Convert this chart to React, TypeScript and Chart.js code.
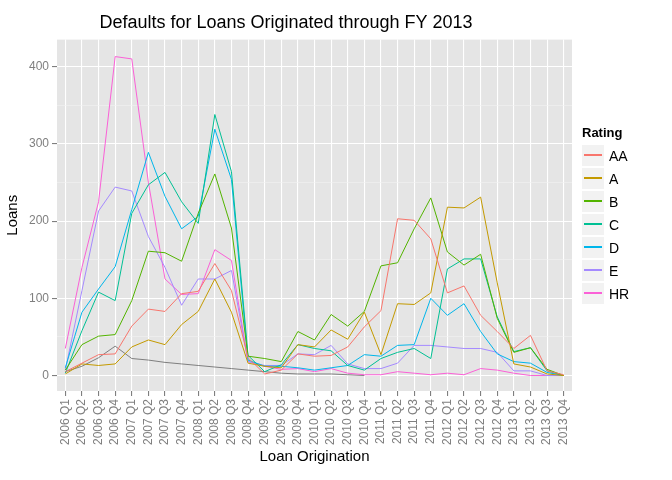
import React, { useEffect, useRef } from "react";
import { Chart, registerables } from "chart.js";
Chart.register(...registerables);

const categories = ["2006 Q1","2006 Q2","2006 Q3","2006 Q4","2007 Q1","2007 Q2","2007 Q3","2007 Q4","2008 Q1","2008 Q2","2008 Q3","2008 Q4","2009 Q2","2009 Q3","2009 Q4","2010 Q1","2010 Q2","2010 Q3","2010 Q4","2011 Q1","2011 Q2","2011 Q3","2011 Q4","2012 Q1","2012 Q2","2012 Q3","2012 Q4","2013 Q1","2013 Q2","2013 Q3","2013 Q4"];
const AA = [5,16,27,28,64,86,83,106,109,145,110,23,2,7,28,25,26,37,63,84,203,201,177,107,116,78,57,35,52,6,1];
const A = [2,15,13,15,37,46,40,66,83,125,82,16,12,10,40,37,59,47,82,27,93,92,107,218,217,231,120,15,11,2,0];
const B = [7,40,51,53,97,161,159,148,210,261,191,25,22,18,57,46,79,64,83,142,146,190,230,160,143,157,74,30,36,8,0];
const C = [3,58,108,97,210,247,263,225,197,338,264,26,5,14,40,35,32,13,7,22,30,35,22,138,151,151,76,31,36,6,0];
const D = [10,82,112,141,215,289,232,190,206,319,254,20,12,12,10,7,10,13,27,25,39,40,100,78,93,57,28,18,16,4,0];
const E = [7,110,213,244,239,180,140,91,125,125,136,18,13,13,28,27,39,15,9,9,16,39,39,37,35,35,30,6,6,0,0];
const HR = [35,140,225,413,410,250,125,105,106,163,149,18,12,8,9,5,9,3,1,1,5,3,1,3,1,9,7,3,0,0,0];
const NA = [5,12,23,38,22,20,17,15,13,11,9,7,5,3,2,2,2,1,0,null,null,null,null,null,null,null,null,null,null,null,null];
const series = [
  { label: "AA", data: AA, color: "#F8766D" },
  { label: "A", data: A, color: "#C49A00" },
  { label: "B", data: B, color: "#53B400" },
  { label: "C", data: C, color: "#00C094" },
  { label: "D", data: D, color: "#00B6EB" },
  { label: "E", data: E, color: "#A58AFF" },
  { label: "HR", data: HR, color: "#FB61D7" },
];

const bgPlugin = {
  id: "panelBg",
  beforeDraw(chart: any) {
    const { ctx, chartArea: a } = chart;
    ctx.save();
    ctx.fillStyle = "#E5E5E5";
    ctx.fillRect(a.left, a.top, a.right - a.left, a.bottom - a.top);
    ctx.restore();
  },
};

export default function App() {
  const ref = useRef<HTMLCanvasElement>(null);
  useEffect(() => {
    const datasets: any[] = series.map((s) => ({
      label: s.label, data: s.data, borderColor: s.color, backgroundColor: s.color,
      borderWidth: 1, pointRadius: 0, tension: 0, spanGaps: false,
    }));
    datasets.push({ label: "NA", data: NA, borderColor: "#7F7F7F", borderWidth: 1, pointRadius: 0 });
    const chart = new Chart(ref.current!, {
      type: "line",
      data: { labels: categories, datasets },
      plugins: [bgPlugin],
      options: {
        animation: false, responsive: false,
        layout: { padding: { left: 0, right: 100, top: 0, bottom: 10 } },
        plugins: {
          legend: { display: false }, tooltip: { enabled: false },
          title: { display: true, text: "Defaults for Loans Originated through FY 2013", color: "#000",
            font: { family: "Liberation Sans", size: 18, weight: "normal" }, padding: { top: 12, bottom: 6 } },
        },
        scales: {
          x: {
            offset: true,
            grid: { color: "#FFFFFF", lineWidth: 1.1, tickLength: 5, tickColor: "#7F7F7F", drawOnChartArea: true },
            border: { display: false },
            ticks: { color: "#7F7F7F", font: { family: "Liberation Sans", size: 12 }, maxRotation: 90, minRotation: 90, autoSkip: false },
            title: { display: true, text: "Loan Origination", color: "#000", font: { family: "Liberation Sans", size: 15 }, padding: { top: 0 } },
          },
          y: {
            min: -20, max: 435,
            afterBuildTicks: (ax: any) => { ax.ticks = [0, 50, 100, 150, 200, 250, 300, 350, 400].map((v) => ({ value: v })); },
            grid: {
              color: (c: any) => (c.tick && c.tick.value % 100 === 0 ? "#FFFFFF" : "#F2F2F2"),
              lineWidth: (c: any) => (c.tick && c.tick.value % 100 === 0 ? 1.1 : 0.6),
              tickLength: 5,
              tickColor: (c: any) => (c.tick && c.tick.value % 100 === 0 ? "#7F7F7F" : "rgba(0,0,0,0)"),
            },
            border: { display: false },
            ticks: { color: "#7F7F7F", font: { family: "Liberation Sans", size: 12 },
              callback: (v: any) => (Number(v) % 100 === 0 ? String(v) : "") },
            title: { display: true, text: "Loans", color: "#000", font: { family: "Liberation Sans", size: 15 } },
          },
        },
      },
    } as any);
    return () => chart.destroy();
  }, []);
  return (
    <div style={{ position: "fixed", left: 0, top: 0, width: 672, height: 480, background: "#fff", fontFamily: "Liberation Sans" }}>
      <canvas ref={ref} width={672} height={480} />
      <div style={{ position: "absolute", left: 582, top: 125 }}>
        <div style={{ fontWeight: "bold", fontSize: 13, marginBottom: 4 }}>Rating</div>
        {series.map((s) => (
          <div key={s.label} style={{ display: "flex", alignItems: "center", height: 23 }}>
            <div style={{ width: 22, height: 21, background: "#F2F2F2", display: "flex", alignItems: "center", justifyContent: "center", marginRight: 5, borderBottom: "1px solid #fff" }}>
              <div style={{ width: 18, height: 1.5, background: s.color }} />
            </div>
            <span style={{ fontSize: 14 }}>{s.label}</span>
          </div>
        ))}
      </div>
    </div>
  );
}
